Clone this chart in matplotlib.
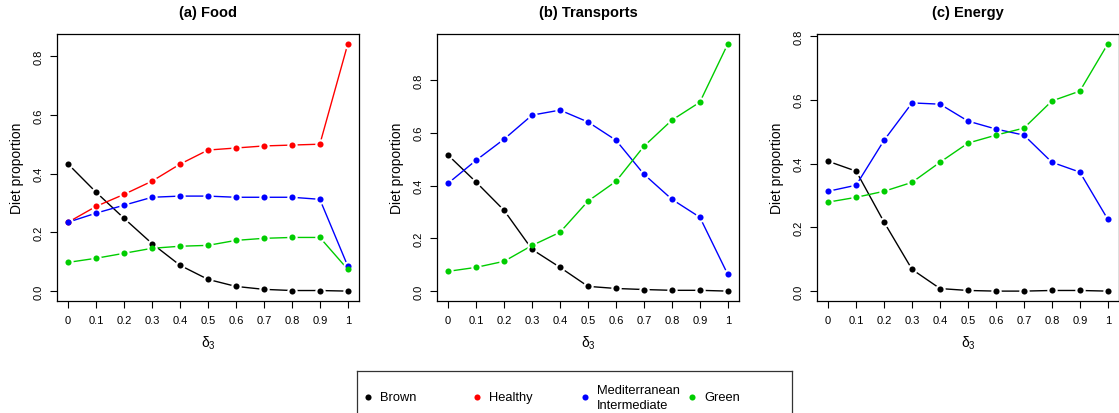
import matplotlib
matplotlib.use("Agg")
import matplotlib.pyplot as plt
from matplotlib.lines import Line2D

plt.rcParams['font.family'] = ['Liberation Sans', 'DejaVu Sans']
plt.rcParams['mathtext.fontset'] = 'custom'
plt.rcParams['mathtext.rm'] = 'Liberation Sans'
plt.rcParams['mathtext.it'] = 'Liberation Sans'

W, H = 1119, 414

delta3 = [0, 0.1, 0.2, 0.3, 0.4, 0.5, 0.6, 0.7, 0.8, 0.9, 1]
xtick_labels = ["0", "0.1", "0.2", "0.3", "0.4", "0.5", "0.6", "0.7", "0.8", "0.9", "1"]

# (a) Food
food_brown = [0.433, 0.337, 0.248, 0.162, 0.088, 0.040, 0.016, 0.006, 0.002, 0.002, 0.000]
food_healthy = [0.235, 0.289, 0.330, 0.375, 0.433, 0.481, 0.488, 0.495, 0.498, 0.501, 0.843]
food_med = [0.235, 0.266, 0.293, 0.320, 0.324, 0.324, 0.320, 0.320, 0.320, 0.313, 0.085]
food_green = [0.098, 0.112, 0.129, 0.146, 0.153, 0.156, 0.173, 0.180, 0.183, 0.183, 0.074]

# (b) Transports (no Healthy curve)
trans_brown = [0.515, 0.413, 0.306, 0.158, 0.090, 0.018, 0.010, 0.006, 0.003, 0.003, 0.000]
trans_med = [0.409, 0.496, 0.576, 0.667, 0.686, 0.641, 0.572, 0.443, 0.348, 0.280, 0.063]
trans_green = [0.075, 0.090, 0.113, 0.173, 0.223, 0.341, 0.416, 0.549, 0.648, 0.716, 0.937]

# (c) Energy (no Healthy curve)
energy_brown = [0.407, 0.376, 0.216, 0.068, 0.008, 0.002, 0.000, 0.000, 0.002, 0.002, 0.000]
energy_med = [0.313, 0.332, 0.473, 0.590, 0.586, 0.533, 0.508, 0.489, 0.404, 0.373, 0.225]
energy_green = [0.279, 0.294, 0.313, 0.341, 0.404, 0.464, 0.489, 0.511, 0.596, 0.627, 0.775]

titles = ["(a) Food", "(b) Transports", "(c) Energy"]
legend_labels = ["Brown", "Healthy", "Mediterranean\nIntermediate", "Green"]
colors = ["black", "#FF0000", "#0000FF", "#00CD00"]

panels = [
    [food_brown, food_healthy, food_med, food_green],
    [trans_brown, None, trans_med, trans_green],
    [energy_brown, None, energy_med, energy_green],
]


def px_axes(fig, left, top, right, bottom):
    return fig.add_axes([left / W, 1 - bottom / H, (right - left) / W, (bottom - top) / H])


def draw_series(ax, x, y, col):
    # R type="b": lines with small gaps around the points
    ax.plot(x, y, color=col, lw=1.0, zorder=2)
    ax.plot(x, y, ls="none", marker="o", ms=7.5, mfc="white", mec="none", zorder=3)
    ax.plot(x, y, ls="none", marker="o", ms=4.4, mfc=col, mec="none", zorder=4)


def main():
    fig = plt.figure(figsize=(W / 100, H / 100), dpi=100)
    lefts = [57, 437, 817]
    for i, series in enumerate(panels):
        ax = px_axes(fig, lefts[i], 35, lefts[i] + 302, 302)
        for y, col in zip(series, colors):
            if y is not None:
                draw_series(ax, delta3, y, col)
        ax.margins(x=0.04, y=0.04)
        ax.set_xticks(delta3)
        ax.set_xticklabels(xtick_labels)
        ax.set_yticks([0.0, 0.2, 0.4, 0.6, 0.8])
        ax.set_yticklabels(["0.0", "0.2", "0.4", "0.6", "0.8"], rotation=90, va="center")
        ax.tick_params(labelsize=8, length=5, width=0.8, direction="out", pad=4.5)
        ax.tick_params(axis="x", pad=5)
        for sp in ax.spines.values():
            sp.set_linewidth(0.9)
        ax.set_title(titles[i], fontsize=10.5, fontweight="bold", pad=13)
        ax.set_xlabel(r"$\delta_3$", fontsize=10, labelpad=6)
        ax.set_ylabel("Diet proportion", fontsize=10, labelpad=7)

    # legend box along the bottom, cut off by the figure edge as in the original
    lax = fig.add_axes([357 / W, -0.05, (792 - 357) / W, (414 - 372) / H + 0.05])
    lax.set_xlim(357, 792)
    lax.set_ylim(414 + 0.05 * H, 372)
    lax.set_xticks([])
    lax.set_yticks([])
    for sp in lax.spines.values():
        sp.set_linewidth(0.9)
        sp.set_color("#333333")
    mark_x = [368, 477, 585, 692]
    for mx, lab, col in zip(mark_x, legend_labels, colors):
        lax.add_line(Line2D([mx], [398], ls="none", marker="o", ms=4.4, mfc=col, mec="none"))
        lax.text(mx + 12, 398.5, lab, fontsize=9.3, va="center", ha="left", linespacing=1.25)

    fig.savefig("out.png", dpi=100)


if __name__ == '__main__':
    main()
